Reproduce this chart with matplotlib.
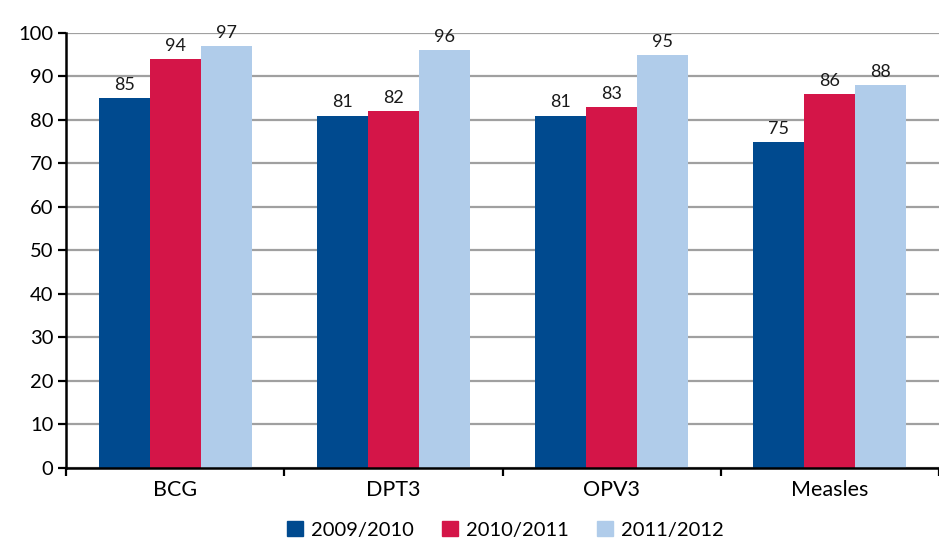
import numpy as np
import matplotlib.pyplot as plt
from matplotlib.patches import Patch

# Immunisation coverage (%) by antigen and year
categories = ['BCG', 'DPT3', 'OPV3', 'Measles']
years = ['2009/2010', '2010/2011', '2011/2012']
cov_2009 = [85, 81, 81, 75]
cov_2010 = [94, 82, 83, 86]
cov_2011 = [97, 96, 95, 88]

colors = ['#004A8F', '#D41548', '#B0CCEA']

plt.rcParams['font.family'] = ['Lato', 'DejaVu Sans']

fig = plt.figure(figsize=(9.39, 5.46), dpi=100)
ax = fig.add_axes([0.0703, 0.1429, 0.9297, 0.7967])

x = np.arange(len(categories))
w = 0.234
series = [cov_2009, cov_2010, cov_2011]
for i, (vals, col) in enumerate(zip(series, colors)):
    pos = x + (i - 1) * w
    bars = ax.bar(pos, vals, width=w, color=col, zorder=3)
    for b, v in zip(bars, vals):
        ax.text(b.get_x() + b.get_width() / 2, v + 1.2, str(v),
                ha='center', va='bottom', fontsize=13, color='#1a1a1a')

ax.set_ylim(0, 100)
ax.set_xlim(-0.5, len(categories) - 0.5)
ax.set_yticks(range(0, 101, 10))
ax.yaxis.grid(True, color='#A0A0A0', linewidth=1.6, zorder=0)
ax.set_axisbelow(True)

# category separators as ticks, labels in minor positions
ax.set_xticks(np.arange(-0.5, len(categories), 1.0))
ax.set_xticklabels([])
ax.set_xticks(x, minor=True)
ax.set_xticklabels(categories, minor=True, fontsize=15.5)
ax.tick_params(axis='x', which='minor', length=0, pad=9)
ax.tick_params(axis='x', which='major', length=6, width=1.6, direction='out')
ax.tick_params(axis='y', length=6, width=1.6, labelsize=14.5, pad=3)

for s in ['top', 'right']:
    ax.spines[s].set_visible(False)
ax.spines['left'].set_linewidth(1.8)
ax.spines['bottom'].set_linewidth(1.8)
ax.spines['bottom'].set_zorder(4)

handles = [Patch(color=c, label=y) for c, y in zip(colors, years)]
fig.legend(handles=handles, loc='lower center', bbox_to_anchor=(0.538, -0.02),
           ncol=3, frameon=False, fontsize=14.5, handlelength=0.8, handleheight=0.8,
           handletextpad=0.4, columnspacing=1.4)

fig.savefig('out.png', dpi=100)
